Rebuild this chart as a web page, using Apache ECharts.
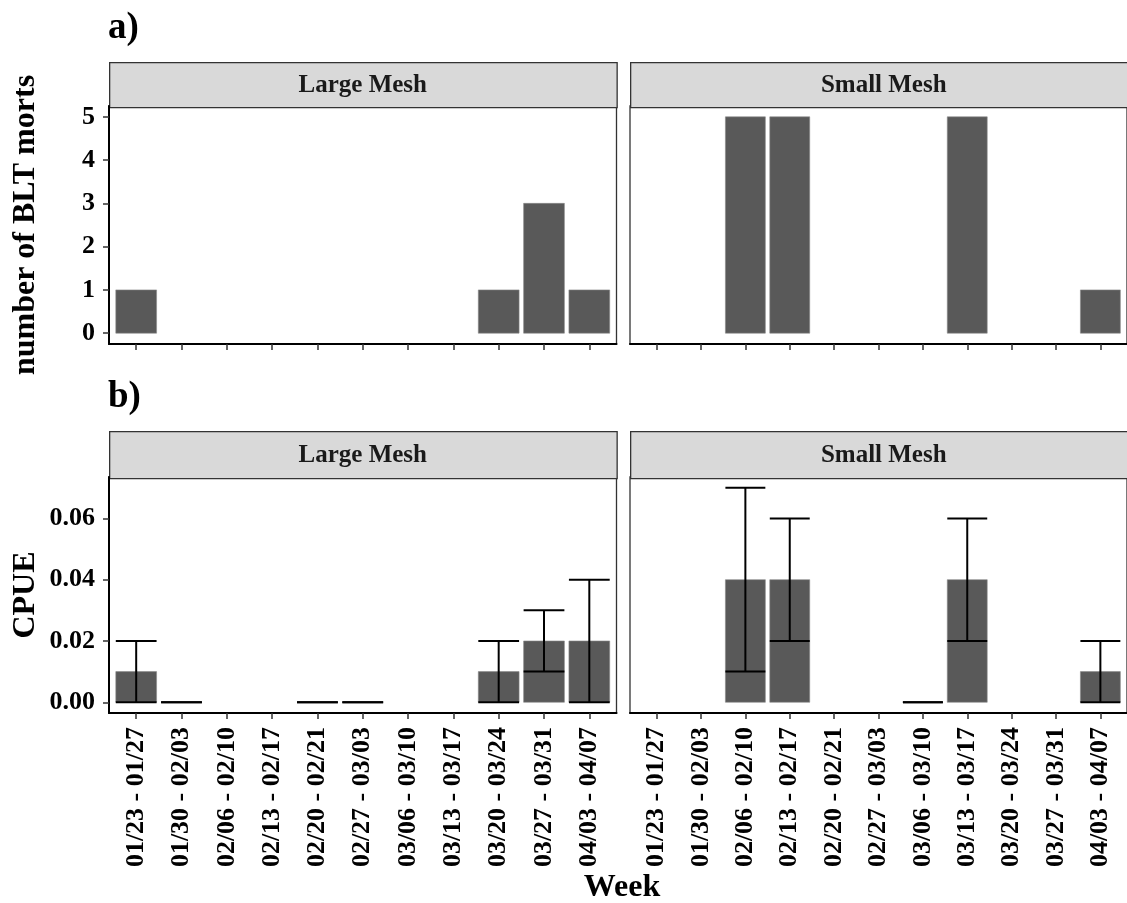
<!DOCTYPE html>
<html>
<head>
<meta charset="utf-8">
<script src="https://cdn.jsdelivr.net/npm/echarts@6/dist/echarts.min.js"></script>
<style>
  html, body { margin: 0; padding: 0; background: #ffffff; }
  #chart { width: 1127px; height: 903px; }
</style>
</head>
<body>
<div id="chart"></div>
<script>
// Survey weeks (x categories, shared by every panel)
const weeks = ['01/23 - 01/27', '01/30 - 02/03', '02/06 - 02/10', '02/13 - 02/17',
  '02/20 - 02/21', '02/27 - 03/03', '03/06 - 03/10', '03/13 - 03/17',
  '03/20 - 03/24', '03/27 - 03/31', '04/03 - 04/07'];
const meshes = ['Large Mesh', 'Small Mesh'];

// a) number of BLT morts per week
const mortsLarge = [1, 0, null, null, 0, 0, null, null, 1, 3, 1];
const mortsSmall = [null, null, 5, 5, null, null, 0, 5, null, null, 1];

// b) CPUE per week with lower / upper error limits
const cpueLarge  = [0.01, 0, null, null, 0, 0, null, null, 0.01, 0.02, 0.02];
const lowLarge   = [0,    0, null, null, 0, 0, null, null, 0,    0.01, 0];
const highLarge  = [0.02, 0, null, null, 0, 0, null, null, 0.02, 0.03, 0.04];
const cpueSmall  = [null, null, 0.04, 0.04, null, null, 0, 0.04, null, null, 0.01];
const lowSmall   = [null, null, 0.01, 0.02, null, null, 0, 0.02, null, null, 0];
const highSmall  = [null, null, 0.07, 0.06, null, null, 0, 0.06, null, null, 0.02];

// tick values
const mortTicks = [0, 1, 2, 3, 4, 5];
const cpueTicks = [0, 0.02, 0.04, 0.06];

const FONT = 'Liberation Serif';
const weekIdx = weeks.map((_, i) => i);

const pairs = (vals) => vals.map((v, i) => v == null ? null : [i, v]).filter(Boolean);
const triples = (lo, hi) => lo.map((v, i) => v == null ? null : [i, v, hi[i]]).filter(Boolean);

// panel layout
const LEFTS = [109, 630];
const PW = 507.5;
const ROWS = [
  { top: 106, height: 238, stripTop: 62, tag: 'a)', tagY: 28 },
  { top: 477, height: 236, stripTop: 431, tag: 'b)', tagY: 397 }
];

function renderBar(params, api) {
  const x = api.value(0), v = api.value(1);
  const p0 = api.coord([x, 0]);
  const p1 = api.coord([x, v]);
  const w = api.size([0.9, 0])[0];
  const h = p0[1] - p1[1];
  if (h <= 0) return null;
  return {
    type: 'rect',
    shape: { x: p0[0] - w / 2, y: p1[1], width: w, height: h },
    style: { fill: '#595959', stroke: '#8a8a8a', lineWidth: 0.6 }
  };
}

function renderErr(params, api) {
  const x = api.value(0);
  const lo = api.coord([x, api.value(1)]);
  const hi = api.coord([x, api.value(2)]);
  const w = api.size([0.9, 0])[0];
  const st = { stroke: '#000', lineWidth: 2 };
  return {
    type: 'group',
    children: [
      { type: 'line', shape: { x1: lo[0], y1: lo[1], x2: hi[0], y2: hi[1] }, style: st },
      { type: 'line', shape: { x1: lo[0] - w / 2, y1: lo[1], x2: lo[0] + w / 2, y2: lo[1] }, style: st },
      { type: 'line', shape: { x1: hi[0] - w / 2, y1: hi[1], x2: hi[0] + w / 2, y2: hi[1] }, style: st }
    ]
  };
}

const labelStyle = { color: '#000', fontFamily: FONT, fontWeight: 'bold', fontSize: 26 };

const grids = [], xAxes = [], yAxes = [], series = [], graphics = [];

ROWS.forEach((row, r) => {
  LEFTS.forEach((left, c) => {
    const gi = grids.length;
    grids.push({
      left: left, top: row.top, width: PW, height: row.height,
      show: true, borderColor: '#333', borderWidth: 1.3, backgroundColor: 'transparent'
    });
    xAxes.push({
      type: 'value', gridIndex: gi, min: -0.6, max: 10.6,
      splitLine: { show: false },
      axisLine: { show: true, onZero: false, lineStyle: { color: '#000', width: 2 } },
      axisTick: { show: true, customValues: weekIdx, length: 6, lineStyle: { color: '#333', width: 1.5 } },
      axisLabel: r === 1 ? Object.assign({
        show: true, customValues: weekIdx, rotate: 90, margin: 14,
        formatter: (v) => weeks[Math.round(v)]
      }, labelStyle) : { show: false }
    });
    const ticks = r === 0 ? mortTicks : cpueTicks;
    yAxes.push({
      type: 'value', gridIndex: gi,
      min: r === 0 ? -0.25 : -0.0035,
      max: r === 0 ? 5.25 : 0.0735,
      splitLine: { show: false },
      axisLine: { show: c === 0, onZero: false, lineStyle: { color: '#000', width: 2 } },
      axisTick: { show: c === 0, customValues: ticks, length: 6, lineStyle: { color: '#333', width: 1.5 } },
      axisLabel: c === 0 ? Object.assign({
        show: true, customValues: ticks, margin: 14,
        formatter: (v) => r === 0 ? String(Math.round(v)) : v.toFixed(2)
      }, labelStyle) : { show: false }
    });

    const vals = r === 0 ? (c === 0 ? mortsLarge : mortsSmall) : (c === 0 ? cpueLarge : cpueSmall);
    series.push({
      type: 'custom', xAxisIndex: gi, yAxisIndex: gi,
      renderItem: renderBar, data: pairs(vals), silent: true
    });
    if (r === 1) {
      series.push({
        type: 'custom', xAxisIndex: gi, yAxisIndex: gi,
        renderItem: renderErr, encode: { x: 0, y: [1, 2] },
        data: c === 0 ? triples(lowLarge, highLarge) : triples(lowSmall, highSmall),
        silent: true, z: 3
      });
    }

    // facet strip
    graphics.push({
      type: 'rect', left: left, top: row.stripTop,
      shape: { width: PW, height: row.top + 1 - row.stripTop },
      style: { fill: '#D9D9D9', stroke: '#333', lineWidth: 1.3 }
    });
    graphics.push({
      type: 'text', x: left + PW / 2, y: (row.stripTop + row.top) / 2 + 2,
      style: { text: meshes[c], fill: '#1a1a1a', font: 'bold 25px "' + FONT + '"', align: 'center', verticalAlign: 'middle' }
    });
  });

  // panel tag
  graphics.push({
    type: 'text', x: 108, y: row.tagY,
    style: { text: row.tag, fill: '#000', font: 'bold 37px "' + FONT + '"', align: 'left', verticalAlign: 'middle' }
  });
});

// axis titles
graphics.push({
  type: 'text', x: 26, y: 106 + 238 / 2, rotation: Math.PI / 2,
  style: { text: 'number of BLT morts', fill: '#000', font: 'bold 32px "' + FONT + '"', align: 'center', verticalAlign: 'middle' }
});
graphics.push({
  type: 'text', x: 26, y: 477 + 236 / 2, rotation: Math.PI / 2,
  style: { text: 'CPUE', fill: '#000', font: 'bold 32px "' + FONT + '"', align: 'center', verticalAlign: 'middle' }
});
graphics.push({
  type: 'text', x: 622, y: 888,
  style: { text: 'Week', fill: '#000', font: 'bold 32px "' + FONT + '"', align: 'center', verticalAlign: 'middle' }
});

const chart = echarts.init(document.getElementById('chart'), null, { renderer: 'canvas' });
chart.setOption({
  backgroundColor: '#ffffff',
  animation: false,
  grid: grids,
  xAxis: xAxes,
  yAxis: yAxes,
  series: series,
  graphic: graphics
});
</script>
</body>
</html>
